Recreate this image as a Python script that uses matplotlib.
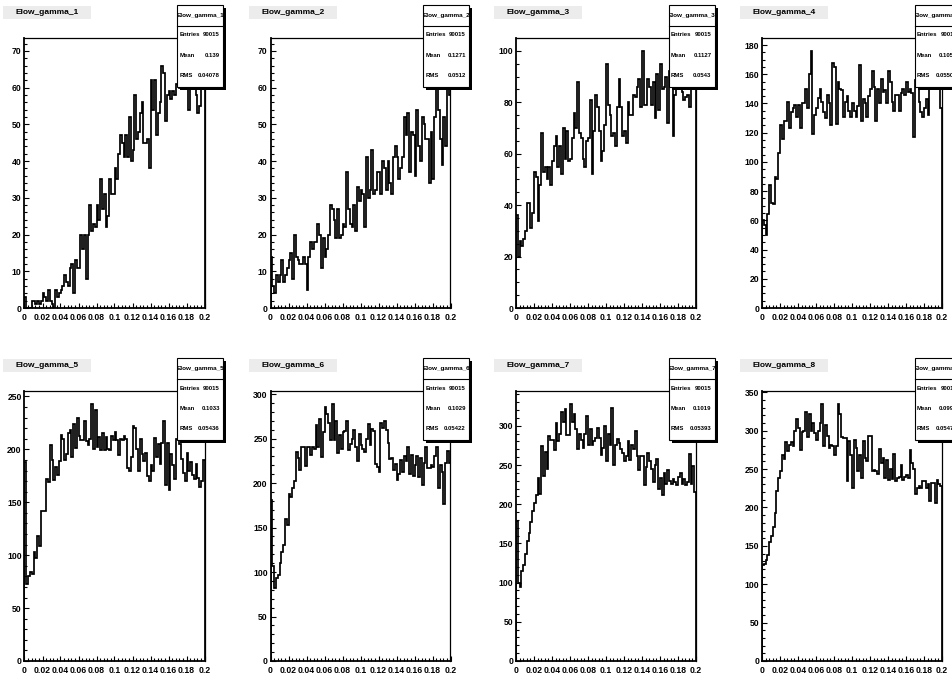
import matplotlib
matplotlib.use("Agg")
import matplotlib.pyplot as plt
from matplotlib.patches import Rectangle
from matplotlib.lines import Line2D
from matplotlib.ticker import MultipleLocator, FuncFormatter
from matplotlib.transforms import Bbox
import numpy as np

W, H = 953, 681
DPI = 100
plt.rcParams['font.family'] = ['Liberation Sans', 'DejaVu Sans']
plt.rcParams['font.weight'] = 'bold'

# 100 bins between 0 and 0.2
bin_edges = np.linspace(0.0, 0.2, 101)

counts_1 = [3, 0, 0, 0, 2, 2, 1, 2, 1, 2,
            4, 3, 2, 5, 2, 1, 0, 5, 3, 4,
            5, 6, 9, 7, 6, 11, 12, 4, 13, 11,
            11, 20, 16, 20, 8, 20, 28, 21, 23, 22,
            28, 24, 35, 27, 31, 22, 25, 35, 31, 31,
            38, 35, 42, 47, 45, 41, 47, 41, 52, 40,
            43, 58, 46, 48, 53, 56, 45, 45, 46, 38,
            62, 54, 62, 47, 53, 56, 66, 64, 51, 58,
            59, 57, 59, 58, 61, 62, 60, 65, 63, 70,
            62, 54, 64, 66, 60, 58, 53, 55, 62, 68]

counts_2 = [14, 6, 4, 9, 7, 9, 13, 7, 9, 11,
            13, 15, 8, 20, 14, 13, 12, 12, 14, 12,
            5, 14, 18, 16, 18, 18, 23, 20, 11, 19,
            14, 16, 20, 28, 27, 24, 19, 27, 19, 20,
            23, 22, 37, 27, 23, 22, 28, 21, 33, 29,
            32, 31, 22, 41, 30, 32, 43, 31, 32, 37,
            37, 31, 40, 38, 32, 40, 34, 31, 41, 44,
            41, 35, 38, 41, 52, 47, 53, 37, 48, 47,
            36, 54, 44, 40, 52, 50, 46, 46, 34, 48,
            35, 52, 64, 54, 46, 39, 52, 44, 70, 58]

counts_3 = [36, 20, 26, 24, 27, 30, 41, 41, 31, 37,
            53, 51, 34, 48, 68, 53, 55, 50, 55, 48,
            57, 63, 67, 55, 63, 52, 70, 58, 69, 57,
            58, 66, 76, 70, 88, 68, 66, 58, 55, 65,
            66, 81, 52, 69, 83, 78, 69, 57, 61, 71,
            95, 79, 75, 67, 68, 63, 78, 89, 78, 67,
            69, 64, 80, 75, 75, 83, 82, 86, 89, 78,
            100, 79, 79, 89, 86, 79, 88, 74, 91, 77,
            95, 85, 86, 90, 72, 92, 88, 67, 83, 90,
            87, 88, 84, 81, 82, 83, 78, 90, 86, 92]

counts_4 = [60, 57, 50, 64, 84, 72, 71, 90, 88, 106,
            125, 116, 128, 128, 141, 123, 134, 137, 139, 131,
            139, 123, 140, 140, 150, 137, 160, 176, 119, 132,
            137, 144, 150, 141, 134, 130, 146, 140, 125, 168,
            165, 126, 155, 150, 149, 131, 141, 145, 135, 131,
            140, 135, 131, 138, 166, 128, 143, 140, 131, 145,
            150, 162, 151, 128, 150, 140, 157, 148, 149, 140,
            162, 155, 141, 135, 146, 146, 135, 147, 150, 146,
            155, 148, 150, 147, 117, 156, 160, 141, 134, 131,
            137, 143, 132, 150, 160, 155, 165, 150, 158, 137]

counts_5 = [188, 73, 80, 84, 82, 103, 97, 118, 109, 142,
            142, 142, 172, 169, 204, 190, 171, 183, 176, 189,
            214, 210, 190, 196, 215, 218, 193, 224, 201, 230,
            213, 209, 209, 227, 208, 204, 210, 243, 200, 237,
            202, 212, 199, 215, 199, 212, 200, 199, 213, 209,
            216, 209, 195, 210, 209, 213, 210, 182, 180, 193,
            222, 220, 200, 180, 210, 196, 189, 197, 175, 170,
            185, 180, 211, 193, 205, 186, 206, 227, 166, 206,
            162, 196, 185, 172, 210, 215, 205, 191, 178, 170,
            197, 180, 188, 176, 172, 186, 173, 164, 170, 190]

counts_6 = [181, 107, 82, 93, 97, 110, 122, 130, 160, 153,
            188, 184, 194, 202, 235, 228, 215, 241, 241, 219,
            240, 240, 232, 240, 238, 265, 240, 272, 229, 257,
            285, 278, 268, 248, 289, 248, 270, 234, 254, 238,
            257, 258, 270, 237, 244, 250, 260, 240, 225, 255,
            243, 238, 235, 250, 266, 243, 261, 258, 221, 218,
            212, 268, 262, 270, 260, 245, 227, 228, 215, 221,
            203, 210, 226, 212, 230, 225, 241, 210, 232, 208,
            220, 230, 207, 228, 198, 222, 240, 217, 217, 220,
            218, 230, 240, 194, 220, 212, 176, 222, 236, 222]

counts_7 = [178, 100, 95, 115, 122, 137, 153, 163, 177, 191,
            202, 212, 233, 213, 274, 236, 267, 245, 287, 282,
            282, 269, 303, 280, 290, 317, 305, 321, 288, 288,
            328, 305, 315, 296, 270, 290, 282, 272, 290, 313,
            276, 296, 275, 280, 285, 297, 285, 263, 272, 300,
            255, 290, 275, 323, 250, 275, 283, 278, 270, 265,
            255, 262, 280, 256, 275, 270, 294, 262, 243, 262,
            262, 224, 248, 265, 255, 245, 228, 250, 258, 220,
            233, 212, 240, 226, 244, 230, 226, 232, 228, 225,
            235, 240, 226, 232, 225, 228, 264, 226, 249, 215]

counts_8 = [125, 127, 131, 138, 155, 163, 175, 193, 222, 238,
            248, 268, 263, 285, 273, 282, 285, 280, 300, 315,
            303, 275, 298, 300, 324, 292, 322, 300, 310, 297,
            288, 300, 310, 335, 280, 308, 293, 277, 282, 280,
            268, 280, 335, 322, 292, 291, 291, 235, 287, 268,
            225, 288, 278, 248, 268, 238, 287, 265, 260, 293,
            293, 248, 249, 247, 243, 276, 258, 265, 238, 262,
            236, 250, 237, 270, 235, 238, 240, 255, 236, 240,
            242, 238, 275, 258, 250, 218, 226, 228, 226, 234,
            234, 225, 230, 208, 232, 232, 206, 236, 230, 228]

all_counts = [counts_1, counts_2, counts_3, counts_4,
              counts_5, counts_6, counts_7, counts_8]

hist_names = ["Elow_gamma_1", "Elow_gamma_2", "Elow_gamma_3", "Elow_gamma_4",
              "Elow_gamma_5", "Elow_gamma_6", "Elow_gamma_7", "Elow_gamma_8"]
entries = ["90015"] * 8
means = ["0.139", "0.1271", "0.1127", "0.1056",
         "0.1033", "0.1029", "0.1019", "0.0995"]
rms_values = ["0.04078", "0.0512", "0.0543", "0.05505",
              "0.05436", "0.05422", "0.05393", "0.05471"]
y_major_step = [10, 10, 20, 20, 50, 50, 50, 50]
y_minor_div = [5, 5, 4, 4, 5, 5, 5, 5]

# pad frame geometry in pixels
col_left = [24.5, 270.5, 516.0, 762.0]
row_top = [38.0, 391.0]
frame_w, frame_h = 180.0, 270.0

fig = plt.figure(figsize=(W / DPI, H / DPI), dpi=DPI)
fig.patch.set_facecolor("white")


def frac_rect(x0, y0, w, h):
    """pixel rect (top-left origin) -> figure fraction rect"""
    return (x0 / W, 1 - (y0 + h) / H, w / W, h / H)


def fig_box(x0, y0, w, h, **kw):
    l, b, ww, hh = frac_rect(x0, y0, w, h)
    r = Rectangle((l, b), ww, hh, transform=fig.transFigure, **kw)
    fig.add_artist(r)
    return r


def fig_text(x, y, s, clip=None, **kw):
    t = fig.text(x / W, 1 - y / H, s, **kw)
    if clip is not None:
        x0, y0, x1, y1 = clip
        t.set_clip_box(Bbox.from_extents(x0, H - y1, x1, H - y0))
        t.set_clip_on(True)
    return t


tick_fmt = FuncFormatter(lambda v, p: f"{round(v, 4):g}")

for i, counts in enumerate(all_counts):
    r, c = divmod(i, 4)
    left, top = col_left[c], row_top[r]
    ax = fig.add_axes(frac_rect(left, top, frame_w, frame_h))
    vals = np.asarray(counts, dtype=float)
    ax.stairs(vals, bin_edges, baseline=0, color="black", linewidth=1.25)
    ax.set_xlim(0, 0.2)
    ax.set_ylim(0, 1.05 * vals.max())

    ax.xaxis.set_major_locator(MultipleLocator(0.02))
    ax.xaxis.set_minor_locator(MultipleLocator(0.004))
    ax.xaxis.set_major_formatter(tick_fmt)
    step = y_major_step[i]
    ax.yaxis.set_major_locator(MultipleLocator(step))
    ax.yaxis.set_minor_locator(MultipleLocator(step / y_minor_div[i]))
    ax.yaxis.set_major_formatter(tick_fmt)

    ax.tick_params(which="both", direction="in", top=False, right=False,
                   width=0.8, color="black")
    ax.tick_params(which="major", length=3.8, labelsize=6.2)
    ax.tick_params(which="minor", length=2.0)
    ax.tick_params(axis="x", pad=3.6)
    ax.tick_params(axis="y", pad=2.0)
    for lab in ax.get_xticklabels() + ax.get_yticklabels():
        lab.set_fontweight("bold")
    for side in ("left", "bottom"):
        ax.spines[side].set_linewidth(1.3)
    for side in ("top", "right"):
        ax.spines[side].set_linewidth(0.9)

    # pad title
    tx, ty, tw, th = left - 21.5, top - 32.0, 88.0, 13.0
    fig_box(tx, ty, tw, th, facecolor="#ececec", edgecolor="none", zorder=5)
    fig_text(tx + tw / 2, ty + th / 2, hist_names[i], ha="center", va="center",
             fontsize=6.0, fontweight="bold", color="black", zorder=6)

    # statistics box with drop shadow
    sx, sy, sw, sh = left + frame_w - 27.0, top - 33.0, 46.0, 82.0
    fig_box(sx + 3, sy + 3, sw, sh, facecolor="black", edgecolor="none", zorder=7)
    fig_box(sx, sy, sw, sh, facecolor="white", edgecolor="black",
            linewidth=0.8, zorder=8)
    fig.add_artist(Line2D([sx / W, (sx + sw) / W],
                          [1 - (sy + 21) / H, 1 - (sy + 21) / H],
                          transform=fig.transFigure, color="black",
                          linewidth=0.8, zorder=9))
    clip = (sx + 0.5, sy + 0.5, sx + sw - 0.5, sy + sh - 0.5)
    fig_text(sx + sw / 2, sy + 10.7, hist_names[i], clip=clip,
             ha="center", va="center", fontsize=4.6, fontweight="bold", zorder=10)
    rows = [("Entries", entries[i]), ("Mean", means[i]), ("RMS", rms_values[i])]
    for k, (name, val) in enumerate(rows):
        yy = sy + 30.0 + 20.3 * k
        fig_text(sx + 2.0, yy, name, clip=clip, ha="left", va="center",
                 fontsize=4.3, fontweight="bold", zorder=10)
        fig_text(sx + sw - 3.5, yy, val, clip=clip, ha="right", va="center",
                 fontsize=4.3, fontweight="bold", zorder=10)

fig.savefig("out.png", dpi=DPI, facecolor="white")
